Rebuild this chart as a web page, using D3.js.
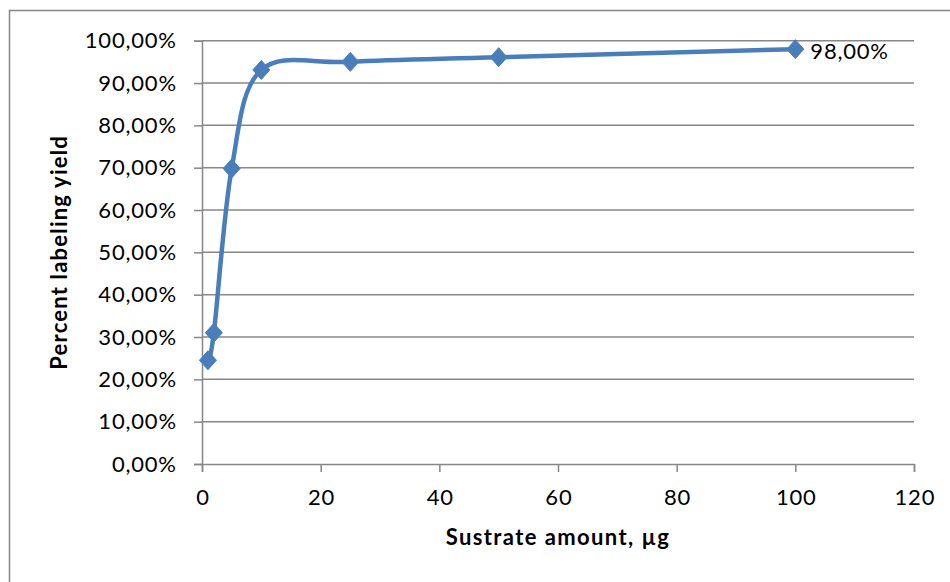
<!DOCTYPE html>
<html><head><meta charset="utf-8">
<script src="https://cdn.jsdelivr.net/npm/d3@7"></script>
<style>html,body{margin:0;padding:0;background:#fff;}svg{display:block;}</style>
</head><body>
<svg id="c" width="950" height="582"></svg>
<script>
const xValues = [1, 2, 5, 10, 25, 50, 100];
const yValues = [0.245, 0.31, 0.698, 0.931, 0.950, 0.961, 0.980];
const xTicks = [0, 20, 40, 60, 80, 100, 120];
const yTicks = [0, 0.1, 0.2, 0.3, 0.4, 0.5, 0.6, 0.7, 0.8, 0.9, 1.0];
const xTitle = "Sustrate amount, µg";
const yTitle = "Percent labeling yield";
const labelText = "98,00%";

const svg = d3.select("#c");
const font = "Lato, 'Open Sans', sans-serif";
const grey = "#878787";
const blue = "#4a7ebb";
const fs = 22, ls = 0.8;

svg.append("rect").attr("x", 9.5).attr("y", 10.5).attr("width", 960).attr("height", 600)
  .attr("fill", "#fff").attr("stroke", grey).attr("stroke-width", 1.5);

const x = d3.scaleLinear().domain([0, 120]).range([202, 914]);
const y = d3.scaleLinear().domain([0, 1]).range([464, 40.7]);
const fmt = v => d3.format(".2f")(v * 100).replace(".", ",") + "%";

// gridlines
svg.append("g").selectAll("line").data(yTicks.slice(1)).join("line")
  .attr("x1", x(0)).attr("x2", x(120))
  .attr("y1", d => y(d)).attr("y2", d => y(d))
  .attr("stroke", grey).attr("stroke-width", 1.5);

// y axis
const ya = svg.append("g").attr("transform", `translate(${x(0)},0)`)
  .call(d3.axisLeft(y).tickValues(yTicks).tickFormat(fmt).tickSize(8).tickPadding(17.2));
ya.select(".domain").attr("stroke", grey).attr("stroke-width", 1.5);
ya.selectAll(".tick line").attr("stroke", grey).attr("stroke-width", 1.5);
ya.selectAll("text").attr("font-family", font).attr("font-size", fs).attr("letter-spacing", ls).attr("fill", "#000");

// x axis
const xa = svg.append("g").attr("transform", `translate(0,${y(0)})`)
  .call(d3.axisBottom(x).tickValues(xTicks).tickSize(8).tickPadding(17));
xa.select(".domain").attr("stroke", grey).attr("stroke-width", 1.5);
xa.selectAll(".tick line").attr("stroke", grey).attr("stroke-width", 1.5);
xa.selectAll("text").attr("font-family", font).attr("font-size", fs).attr("letter-spacing", ls)
  .attr("dx", ls / 2).attr("fill", "#000");

// line
const pts = xValues.map((v, i) => [v, yValues[i]]);
svg.append("path").datum(pts)
  .attr("d", d3.line().x(d => x(d[0])).y(d => y(d[1])).curve(d3.curveCardinal.tension(0)))
  .attr("fill", "none").attr("stroke", blue).attr("stroke-width", 4.5)
  .attr("stroke-linejoin", "round").attr("stroke-linecap", "round");

// markers
svg.append("g").selectAll("path").data(pts).join("path")
  .attr("transform", d => `translate(${x(d[0])},${y(d[1])})`)
  .attr("d", "M0,-9.5L8.5,0L0,9.5L-8.5,0Z")
  .attr("fill", blue).attr("stroke", blue).attr("stroke-width", 1);

// data label
const last = pts[pts.length - 1];
svg.append("text").attr("x", x(last[0]) + 15).attr("y", y(last[1]) + 4)
  .attr("dominant-baseline", "middle").attr("letter-spacing", ls)
  .attr("font-family", font).attr("font-size", fs).text(labelText);

// titles
svg.append("text").attr("x", (x(0) + x(120)) / 2).attr("y", 539)
  .attr("text-anchor", "middle").attr("dominant-baseline", "middle").attr("letter-spacing", 1.4)
  .attr("font-family", font).attr("font-weight", "bold").attr("font-size", 22).text(xTitle);
svg.append("text").attr("transform", `translate(61,${(y(0) + y(1)) / 2}) rotate(-90)`)
  .attr("text-anchor", "middle").attr("dominant-baseline", "middle").attr("letter-spacing", 1.2)
  .attr("font-family", font).attr("font-weight", "bold").attr("font-size", 22).text(yTitle);
</script>
</body></html>
